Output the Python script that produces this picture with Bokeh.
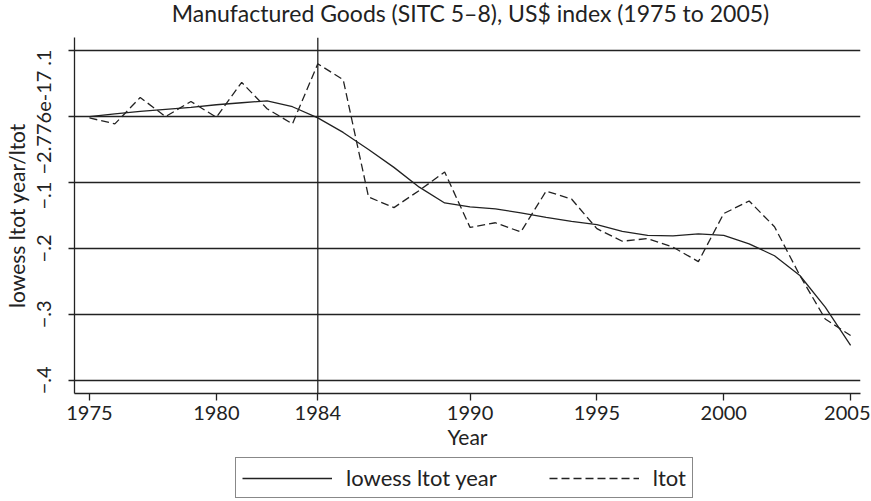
from bokeh.plotting import figure
from bokeh.layouts import column
from bokeh.models import Range1d, FixedTicker, Span, Legend, LegendItem, LinearAxis, Label
from bokeh.embed import file_html
from bokeh.resources import INLINE

years = list(range(1975, 2006))
ltot = [-0.002, -0.011, 0.029, 0.000, 0.023, -0.001, 0.052, 0.012, -0.011, 0.080,
        0.056, -0.122, -0.138, -0.112, -0.084, -0.168, -0.161, -0.175, -0.113, -0.125,
        -0.170, -0.189, -0.185, -0.198, -0.220, -0.147, -0.128, -0.167, -0.241, -0.307,
        -0.332]
lowess = [0.000, 0.004, 0.008, 0.011, 0.014, 0.018, 0.021, 0.024, 0.015, -0.002,
          -0.024, -0.050, -0.077, -0.107, -0.131, -0.137, -0.140, -0.146, -0.153, -0.159,
          -0.164, -0.174, -0.180, -0.181, -0.178, -0.180, -0.193, -0.211, -0.241, -0.289,
          -0.347]

x_ticks = [1975, 1980, 1984, 1990, 1995, 2000, 2005]
y_ticks = [0.1, 0, -0.1, -0.2, -0.3, -0.4]
y_tick_labels = [".1", "\u22122.776e-17", "\u2212.1", "\u2212.2", "\u2212.3", "\u2212.4"]
ref_year = 1984
legend_labels = ["lowess ltot year", "ltot"]
title_text = "Manufactured Goods (SITC 5\u20138), US$ index (1975 to 2005)"

FONT = "Lato"
TICK_FS = "20px"
FS = "21px"
INK = "#222222"

Y0, Y1 = -0.42, 0.12
FRAME_W, FRAME_H = 792, 356
# crowded y labels are nudged down (in pixels) as in the original layout
label_nudge_px = [7, 6, 13, 0, 0, 0]
px_to_data = (Y1 - Y0) / FRAME_H
label_pos = [t - n * px_to_data for t, n in zip(y_ticks, label_nudge_px)]

# ---- title strip ----
p0 = figure(width=870, height=30, output_backend="svg", toolbar_location=None,
            x_axis_location=None, y_axis_location=None, min_border=0,
            x_range=Range1d(0, 1), y_range=Range1d(0, 1))
p0.outline_line_color = None
p0.grid.visible = False
p0.add_layout(Label(x=FRAME_W / 2, y=18, x_units="screen", y_units="screen",
                    text=title_text, text_align="center", text_baseline="middle",
                    text_font=FONT, text_font_size="23px", text_color=INK))

# ---- main chart ----
p = figure(width=870, height=425, output_backend="svg", toolbar_location=None,
           x_range=Range1d(1974.41, 2005.39), y_range=Range1d(Y0, Y1),
           min_border_left=68, min_border_right=10, min_border_top=7, min_border_bottom=62)
p.outline_line_color = None
p.background_fill_color = "white"
p.border_fill_color = "white"

# x axis
xa = p.xaxis[0]
xa.ticker = FixedTicker(ticks=x_ticks)
xa.axis_label = "Year"
xa.axis_line_color = INK
xa.axis_line_width = 1.3
xa.major_tick_line_color = INK
xa.major_tick_line_width = 1.3
xa.major_tick_in = 0
xa.major_tick_out = 7
xa.minor_tick_line_color = None
xa.major_label_text_font = FONT
xa.major_label_text_font_size = TICK_FS
xa.major_label_text_color = INK
xa.axis_label_text_font = FONT
xa.axis_label_text_font_size = FS
xa.axis_label_text_font_style = "normal"
xa.axis_label_text_color = INK
xa.major_label_standoff = 5
xa.axis_label_standoff = 1

# y axis: line and ticks
ya = p.yaxis[0]
ya.ticker = FixedTicker(ticks=y_ticks)
ya.axis_line_color = INK
ya.axis_line_width = 1.3
ya.major_tick_line_color = INK
ya.major_tick_line_width = 1.3
ya.major_tick_in = 0
ya.major_tick_out = 6
ya.minor_tick_line_color = None
ya.major_label_text_font_size = "1px"
ya.major_label_text_color = None
ya.major_label_standoff = 0

# y axis: labels
ya2 = LinearAxis(ticker=FixedTicker(ticks=label_pos),
                 major_label_overrides={pos: lab for pos, lab in zip(label_pos, y_tick_labels)},
                 axis_label="lowess ltot year/ltot")
ya2.axis_line_color = None
ya2.major_tick_line_color = None
ya2.minor_tick_line_color = None
ya2.major_tick_in = 0
ya2.major_tick_out = 0
ya2.major_label_orientation = "parallel"
ya2.major_label_text_font = FONT
ya2.major_label_text_font_size = TICK_FS
ya2.major_label_text_color = INK
ya2.major_label_standoff = 17
ya2.axis_label_text_font = FONT
ya2.axis_label_text_font_size = FS
ya2.axis_label_text_font_style = "normal"
ya2.axis_label_text_color = INK
ya2.axis_label_standoff = 6
p.add_layout(ya2, "left")

p.xgrid.visible = False
p.ygrid.grid_line_color = INK
p.ygrid.grid_line_width = 1.3
p.ygrid.grid_line_alpha = 1.0

p.add_layout(Span(location=ref_year, dimension="height", line_color=INK, line_width=1.3))

p.line(years, lowess, line_color=INK, line_width=1.3)
p.line(years, ltot, line_color=INK, line_width=1.3, line_dash="8 4")

# ---- legend strip below the chart (same line styles as the series, drawn off-view) ----
p2 = figure(width=870, height=45, output_backend="svg", toolbar_location=None,
            x_axis_location=None, y_axis_location=None, min_border=0,
            x_range=Range1d(0, 1), y_range=Range1d(0, 1))
p2.outline_line_color = None
p2.grid.visible = False
k1 = p2.line(years, lowess, line_color=INK, line_width=1.3)
k2 = p2.line(years, ltot, line_color=INK, line_width=1.3, line_dash="8 4")

legend = Legend(items=[LegendItem(label=legend_labels[0], renderers=[k1]),
                       LegendItem(label=legend_labels[1], renderers=[k2])],
                orientation="horizontal", location=(161, 2))
legend.label_text_font = FONT
legend.label_text_font_size = "22px"
legend.label_text_color = INK
legend.border_line_color = "#111111"
legend.border_line_width = 1.3
legend.background_fill_color = "white"
legend.glyph_width = 90
legend.glyph_height = 22
legend.label_height = 22
legend.label_standoff = 14
legend.spacing = 52
legend.padding = 6
legend.margin = 0
p2.add_layout(legend, "center")

open("out.html", "w").write(file_html(column(p0, p, p2, spacing=0), INLINE))
